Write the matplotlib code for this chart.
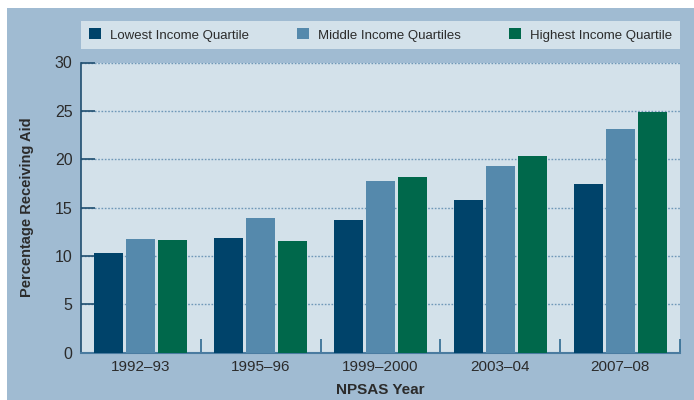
import matplotlib
matplotlib.use("Agg")
import matplotlib.pyplot as plt
import numpy as np
from matplotlib.patches import Rectangle

plt.rcParams['font.family'] = ['Liberation Sans Narrow', 'Liberation Sans', 'DejaVu Sans']

years = ["1992\u201393", "1995\u201396", "1999\u20132000", "2003\u201304", "2007\u201308"]
series_names = ["Lowest Income Quartile", "Middle Income Quartiles", "Highest Income Quartile"]
lowest = [10.3, 11.8, 13.7, 15.8, 17.4]
middle = [11.7, 13.9, 17.7, 19.3, 23.1]
highest = [11.6, 11.5, 18.2, 20.3, 24.9]
yticks = [0, 5, 10, 15, 20, 25, 30]

colors = ["#00436A", "#5589AC", "#00684B"]
outer_bg = "#A0BBD2"
inner_bg = "#D3E1EA"
text_col = "#2b2b2b"

fig = plt.figure(figsize=(6.94, 4.0), dpi=100)
fig.patch.set_facecolor("white")
# blue panel with white border on top and left
fig.patches.append(Rectangle((7/694, 0), 1 - 7/694, 1 - 8/400, transform=fig.transFigure,
                             facecolor=outer_bg, edgecolor="none", zorder=-10))

ax = fig.add_axes([81/694, 47.4/400, 599/694, 290.1/400])
ax.set_facecolor(inner_bg)

x = np.arange(len(years))
w = 0.242
off = 0.267
bars = []
for i, (vals, c) in enumerate(zip([lowest, middle, highest], colors)):
    b = ax.bar(x + (i - 1) * off, vals, width=w, color=c, label=series_names[i], zorder=3)
    bars.append(b)

ax.set_xlim(-0.5, len(years) - 0.5)
ax.set_ylim(0, 30)
ax.set_yticks(yticks)
ax.set_yticklabels([str(v) for v in yticks], fontsize=11.5, color=text_col)
ax.tick_params(axis='y', direction='in', length=10, width=1.2, color="#1F4E70", pad=6)
for v in yticks[1:]:
    ax.axhline(v, color="#6F98B8", linestyle=(0, (1.2, 1.2)), linewidth=1.0, zorder=1)

ax.set_xticks(x)
ax.set_xticklabels(years, fontsize=11, color=text_col)
ax.tick_params(axis='x', length=0, pad=5)
ax.set_xticks(np.arange(0.5, len(years), 1.0), minor=True)
ax.tick_params(axis='x', which='minor', direction='in', length=10, width=1.2, color="#2F6A90")

for s in ["top", "right"]:
    ax.spines[s].set_visible(False)
ax.spines["left"].set_color("#1F4E70")
ax.spines["left"].set_linewidth(1.2)
ax.spines["bottom"].set_color("#4A7BA0")
ax.spines["bottom"].set_linewidth(1.5)

ax.set_xlabel("NPSAS Year", fontsize=11, fontweight="bold", color=text_col, labelpad=7)
ax.set_ylabel("Percentage Receiving Aid", fontsize=10.5, fontweight="bold", color=text_col, labelpad=15)

leg = fig.legend(handles=bars, labels=series_names, loc="center",
                 bbox_to_anchor=(81/694, (400 - 49)/400, 599/694, 28/400),
                 ncol=3, mode="expand", frameon=True, fontsize=9.5,
                 handlelength=0.9, handleheight=0.9, handletextpad=0.7,
                 borderaxespad=0, borderpad=0.6, fancybox=False)
leg.get_frame().set_facecolor(inner_bg)
leg.get_frame().set_edgecolor("none")
leg.get_frame().set_alpha(1)
for t in leg.get_texts():
    t.set_color(text_col)

fig.savefig("out.png", dpi=100, facecolor=fig.get_facecolor())
